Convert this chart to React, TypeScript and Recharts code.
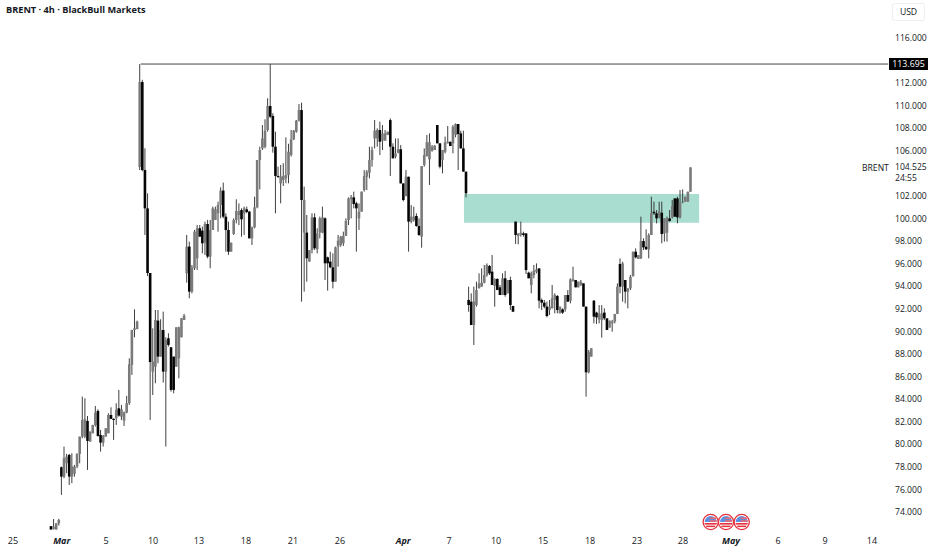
import React from "react";
import { ComposedChart, Bar, XAxis, YAxis, ReferenceLine, ReferenceArea } from "recharts";

// candle rows: open, high, low, close
const preMarket = [[72.75,72.75,72.45,72.45],[72.5,73.38,72.45,72.7],[72.45,73.0,72.45,73.0],[73.0,73.4,72.8,73.3]];
const weekA = [[77.97,78.03,75.52,77.14],[77.14,79.8,77.0,78.76],[78.32,79.15,77.44,78.91],[79.06,79.15,76.4,77.14],[77.14,79.21,76.55,78.03],[77.38,78.17,77.14,78.03],[78.03,79.21,77.88,79.15],[79.15,80.68,78.32,80.68],[80.68,84.23,80.54,82.16],[80.68,84.08,80.54,82.22],[82.07,82.51,77.73,80.3],[80.24,81.13,80.24,81.13],[80.98,81.72,80.98,81.72],[81.72,83.4,81.57,82.81],[82.96,83.1,80.68,80.74],[80.83,81.27,79.35,80.15],[80.15,80.83,79.8,80.74],[80.68,81.42,80.68,81.42],[80.98,82.75,80.98,82.6],[82.6,83.28,82.31,82.25],[82.25,82.31,80.39,82.2],[82.31,83.64,81.72,83.05],[83.19,84.82,82.45,82.54],[82.45,83.49,82.16,83.1],[82.1,82.9,81.63,82.84],[82.81,84.29,82.75,83.64],[83.64,87.62,83.49,87.09],[87.03,90.13,86.15,90.13],[90.13,91.96,89.48,90.28],[90.22,90.96,90.19,90.87]];
const weekB = [[104.57,113.695,104.3,112.1],[112.1,112.3,104.2,104.3],[104.31,106.23,98.55,100.91],[100.91,102.24,94.9,95.18],[95.18,95.18,82.16,87.29],[86.44,90.28,84.37,87.33],[86.88,91.9,85.41,91.02],[90.96,91.9,87.18,87.77],[87.77,91.08,87.77,90.13],[90.13,91.76,85.47,86.44],[86.44,89.48,79.8,89.25],[89.4,89.84,88.66,88.81],[88.6,88.6,84.67,84.82],[87.77,87.77,84.52,84.82],[86.88,90.37,86.88,90.37],[87.62,90.43,85.85,90.37],[89.48,91.17,89.48,91.17],[91.02,91.55,91.02,91.4]];
const weekC = [[95.15,98.55,94.33,97.52],[97.52,97.96,92.94,93.53],[93.53,95.89,93.38,95.68],[95.6,98.99,95.45,98.84],[96.48,99.43,95.45,99.14],[99.14,99.43,98.4,98.4],[98.93,99.29,96.92,97.81],[97.87,99.73,96.78,99.52],[99.52,99.88,96.48,96.63],[96.63,99.88,95.6,98.99],[98.99,101.06,98.99,100.91],[99.88,101.06,99.88,100.82],[100.47,101.5,98.84,101.21],[101.21,102.77,100.03,102.48],[102.48,103.19,100.03,100.17],[100.17,100.47,97.07,98.99],[98.99,99.73,96.78,97.07],[97.07,97.87,97.07,97.87],[98.64,100.03,98.55,99.88],[99.88,101.71,99.58,100.67],[100.32,101.35,99.43,100.67],[100.76,100.91,98.4,99.94],[100.47,101.06,98.55,100.91],[100.82,101.06,100.47,100.59],[100.62,100.68,98.25,98.25],[98.25,99.29,97.66,99.23],[99.23,101.94,99.14,101.0],[101.0,105.19,100.91,105.19],[105.19,106.37,102.59,106.08],[106.23,108.29,106.08,107.11],[106.37,108.8,106.23,107.79],[107.85,110.66,107.7,109.98]];
const weekD = [[109.98,113.695,108.9,109.03],[109.09,109.33,105.84,106.37],[106.37,107.7,100.47,103.78],[103.78,104.6,103.6,103.7],[103.13,104.75,101.35,103.72],[103.42,104.9,102.89,103.78],[103.57,107.2,103.13,103.86],[103.86,106.63,103.13,105.93],[105.64,107.85,105.5,107.02],[107.02,107.85,106.96,107.79],[107.7,108.74,107.61,108.68],[108.68,110.15,108.6,109.62],[109.62,110.27,92.64,101.65],[98.76,102.83,93.53,101.65],[98.76,100.32,94.41,96.48],[96.19,97.21,96.19,97.21],[97.22,100.47,96.92,100.11],[100.11,100.47,97.22,97.37],[97.28,99.14,96.92,98.7],[98.76,100.17,98.25,100.03],[98.76,101.06,98.7,100.11],[100.03,100.11,94.56,96.04],[96.57,96.63,93.62,96.04],[96.19,97.07,95.6,95.68],[95.68,96.92,93.82,94.41],[94.41,97.52,94.41,97.46],[97.52,98.55,95.74,98.05]];
const weekE = [[97.66,98.46,97.51,98.4],[97.81,98.84,97.57,98.46],[98.46,100.02,98.46,99.8],[99.87,101.88,99.43,101.79],[101.71,102.09,100.02,101.88],[101.88,102.39,100.91,101.29],[101.35,101.5,97.07,100.91],[100.02,101.35,98.99,100.61],[100.61,102.39,100.61,102.39],[102.53,104.3,102.39,103.77],[103.71,104.3,102.53,104.16],[104.07,106.37,103.57,105.19],[105.19,106.37,104.6,106.08],[107.11,108.73,106.22,107.79],[107.11,108.0,106.37,107.85],[107.85,108.59,105.63,106.81],[106.9,108.29,106.08,107.55],[106.9,107.85,106.9,107.55],[107.41,107.7,107.4,107.7],[108.73,108.88,103.77,106.37],[106.37,106.67,105.34,105.34],[105.49,107.11,105.34,105.78],[105.84,107.11,105.78,106.14],[106.14,106.52,103.12,103.12],[103.12,103.12,101.53,101.65],[101.99,104.3,101.99,103.71],[103.71,103.71,97.07,99.73],[99.73,101.2,99.58,100.17],[99.87,101.06,99.73,100.17],[100.23,100.47,99.28,99.34],[99.34,100.02,98.46,98.55],[98.4,104.66,97.42,104.66],[104.75,106.22,104.6,105.63],[105.55,107.41,105.49,106.76],[105.25,107.55,102.98,106.76],[106.02,106.52,105.93,106.37],[106.08,106.52,106.08,106.46],[108.29,108.29,106.67,106.67],[106.67,106.67,104.45,104.6],[105.19,106.08,104.01,106.08],[105.93,107.26,105.78,106.76],[106.67,108.2,106.67,106.81],[106.81,106.81,106.43,106.43],[106.67,108.29,105.78,108.14],[107.41,108.44,107.2,108.38],[108.38,108.38,104.3,107.49],[107.55,107.79,106.22,106.22],[106.22,107.79,104.16,104.16],[104.16,104.16,101.88,102.24]];
const weekF = [[92.79,93.97,91.75,92.34],[92.64,93.38,90.57,90.57],[90.57,93.97,88.8,92.64],[92.34,94.41,92.2,93.67],[93.82,95.15,93.82,94.26],[93.97,95.59,93.97,94.32],[94.32,95.89,94.26,95.0],[95.0,96.03,94.85,95.89],[95.8,95.89,95.0,95.15],[95.3,96.77,94.12,94.12],[94.03,94.71,92.2,94.65],[94.65,94.71,93.67,93.67],[93.91,94.12,93.23,93.23],[93.23,95.15,93.23,94.71],[94.71,95.36,93.08,93.23],[93.38,94.56,93.38,94.56],[94.56,94.85,91.9,92.34],[92.26,92.26,91.75,91.75]];
const weekG = [[99.73,99.73,97.75,98.55],[98.46,98.69,97.72,98.69],[98.55,99.73,98.4,98.75],[98.69,98.84,98.4,98.55],[98.69,98.69,95.09,95.44],[95.21,95.3,94.71,94.71],[94.12,95.3,93.38,95.15],[95.0,95.89,94.71,95.39],[95.3,96.03,95.15,95.5],[95.59,95.59,92.05,92.73],[92.79,92.93,91.9,92.55],[92.55,92.79,92.05,92.2],[92.2,92.64,91.25,91.37],[91.9,92.79,91.46,92.2],[92.05,94.12,92.05,92.93],[92.79,93.38,91.61,93.23],[93.14,93.23,91.61,91.9],[91.61,92.2,91.61,92.2],[91.96,92.05,91.55,91.67],[91.96,93.23,91.75,93.23],[93.23,93.67,92.64,92.64],[92.73,94.71,92.49,94.62],[94.5,95.74,94.41,94.62],[94.56,94.56,93.91,93.91],[93.91,94.41,93.91,94.41],[94.12,94.56,94.03,94.41],[94.26,94.26,92.2,92.2],[92.2,92.2,84.22,86.38],[86.38,88.36,86.29,88.21],[87.77,88.51,87.77,88.51]];
const weekH = [[92.73,92.79,90.72,91.31],[91.67,91.75,90.66,91.25],[91.07,92.34,90.72,91.6],[91.01,92.34,89.45,91.6],[91.67,92.05,91.0,91.16],[91.16,91.16,90.13,90.13],[90.34,90.96,90.34,90.96],[90.72,91.02,89.98,90.87],[90.87,91.55,90.72,91.55],[91.55,94.26,91.55,93.97],[95.98,96.48,93.38,93.97],[93.97,96.18,92.64,96.03],[94.56,94.56,92.49,93.53],[93.53,93.82,92.05,93.82],[93.82,95.0,93.67,94.85],[94.91,97.07,94.85,97.07],[97.07,97.36,96.47,96.57],[96.42,96.77,96.42,96.77],[96.48,100.17,96.42,98.01],[98.01,98.25,97.22,97.45],[97.51,99.05,97.22,97.28],[97.28,98.69,96.48,98.55],[98.55,101.94,98.55,100.47],[100.61,101.5,100.32,100.47],[100.47,100.76,99.58,100.02],[100.17,101.5,100.02,100.61],[100.52,101.5,97.81,98.63],[98.69,100.02,97.96,100.02],[98.75,100.17,97.96,100.02],[100.02,100.76,99.73,99.79],[100.11,101.65,100.02,101.11],[101.79,101.79,100.17,100.17],[101.79,101.94,99.58,100.11],[100.11,102.53,100.02,101.35],[101.41,102.59,101.35,101.5],[101.5,101.94,101.5,101.94],[101.5,102.38,101.5,102.38],[102.38,104.54,102.38,104.54]];

const priceTicks = [74,76,78,80,82,84,86,88,90,92,94,96,98,100,102,106,108,110,112,116];
const timeTicks = [-18.7,0,17,35,52.6,70.6,88.6,106.6,130.8,148.4,166.4,184.4,202.4,220.4,238,256.4,274.4,292.4,310.4];
const timeLabels = ["25","Mar","5","10","13","18","21","26","Apr","7","10","15","18","23","28","May","6","9","14"];
const monthLabels = ["Mar","Apr","May"];

const highLevel = 113.695;
const zoneTop = 102.18;
const zoneBottom = 99.63;
const zoneStart = 154.1;
const zoneEnd = 244.2;
const levelStart = 30.3;
const xMin = -23.64;
const xMax = 315.4;

const font = "'Open Sans', sans-serif";

const rows = [...preMarket, ...weekA, ...weekB, ...weekC, ...weekD, ...weekE, ...weekF, ...weekG, ...weekH];
const chartData = rows.map(([o, h, l, c], i) => {
  const hi = Math.max(o, h, l, c);
  const lo = Math.min(o, h, l, c);
  return { idx: i - preMarket.length, o, c, hi, lo, range: [lo, hi] };
});

function Candle(props: any) {
  const { x, y, width, height, payload } = props;
  if (!payload) return null;
  const { o, c, hi, lo } = payload;
  const unit = height / Math.max(hi - lo, 0.0001);
  const cx = x + width / 2;
  const top = y + (hi - Math.max(o, c)) * unit;
  const bot = y + (hi - Math.min(o, c)) * unit;
  const up = c >= o;
  return (
    <g>
      <line x1={cx} x2={cx} y1={y} y2={y + height} stroke="#2a2a2a" strokeWidth={0.9} />
      <rect x={cx - 1.3} y={top} width={2.6} height={Math.max(bot - top, 1)} fill={up ? "#7a7a7a" : "#050505"} />
    </g>
  );
}

function TimeTick(props: any) {
  const { x, y, payload } = props;
  const label = timeLabels[timeTicks.indexOf(payload.value)];
  const month = monthLabels.includes(label);
  return (
    <text x={x} y={y} textAnchor="middle" dominantBaseline="central" fontFamily={font} fontSize={9}
      fontWeight={month ? 700 : 400} fontStyle={month ? "italic" : "normal"} fill="#131722">
      {label}
    </text>
  );
}

function Flag({ cx }: { cx: number }) {
  return (
    <g>
      <circle cx={cx} cy={522} r={7.6} fill="#fff" stroke="#e5303c" strokeWidth={1.3} />
      <path d={`M ${cx - 6} 522 A 6 6 0 0 1 ${cx + 6} 522 Z`} fill="#5b8fe0" />
      <rect x={cx - 1} y={517.5} width={6.5} height={1.6} fill="#e86a72" />
      <rect x={cx - 1} y={520.2} width={7} height={1.6} fill="#e86a72" />
      <rect x={cx - 6} y={523} width={12} height={1.6} fill="#e5303c" />
      <rect x={cx - 4.5} y={525.6} width={9} height={1.5} fill="#e5303c" />
    </g>
  );
}

const flagCenters = [710.7, 726, 741.7];

export default function App() {
  return (
    <div style={{ position: "absolute", left: 0, top: 0, width: 932, height: 550, background: "#fff", overflow: "hidden" }}>
      <ComposedChart width={932} height={550} data={chartData} margin={{ top: 0, right: 0, bottom: 0, left: 0 }}>
        <XAxis dataKey="idx" type="number" domain={[xMin, xMax]} ticks={timeTicks} interval={0} height={18}
          axisLine={false} tickLine={false} tick={<TimeTick />} />
        <YAxis orientation="right" width={47} domain={[72.23, 119.37]} ticks={priceTicks} interval={0}
          axisLine={false} tickLine={false} tickMargin={4}
          tickFormatter={(v: number) => v.toFixed(3)}
          tick={{ fontFamily: font, fontSize: 8.6, fill: "#131722" }} />
        <ReferenceArea x1={zoneStart} x2={zoneEnd} y1={zoneBottom} y2={zoneTop} fill="#a9ddd0" fillOpacity={1} stroke="none" ifOverflow="visible" />
        <ReferenceLine segment={[{ x: levelStart, y: highLevel }, { x: xMax + 1.2, y: highLevel }]} stroke="#444" strokeWidth={1} ifOverflow="visible" />
        <Bar dataKey="range" barSize={2} shape={<Candle />} isAnimationActive={false} />
      </ComposedChart>

      <svg width={932} height={550} style={{ position: "absolute", left: 0, top: 0, pointerEvents: "none" }}>
        {flagCenters.map((cx) => <Flag key={cx} cx={cx} />)}
      </svg>

      <div style={{ position: "absolute", left: 6, top: 4, fontFamily: font, fontWeight: 700, fontSize: 9.2, lineHeight: "12px", color: "#131722", whiteSpace: "nowrap" }}>
        BRENT · 4h · BlackBull Markets
      </div>
      <div style={{ position: "absolute", left: 892, top: 3, width: 33, height: 18, boxSizing: "border-box", border: "1px solid #eef0f3", borderRadius: 2, fontFamily: font, fontSize: 8.6, lineHeight: "16px", textAlign: "center", color: "#131722" }}>
        USD
      </div>
      <div style={{ position: "absolute", left: 889, top: 58, width: 39, height: 12, background: "#000", color: "#fff", fontFamily: font, fontSize: 8.8, lineHeight: "12px", textAlign: "center" }}>
        113.695
      </div>
      <div style={{ position: "absolute", left: 862, top: 162, fontFamily: font, fontSize: 8.6, lineHeight: "12px", color: "#131722" }}>BRENT</div>
      <div style={{ position: "absolute", left: 895, top: 162, fontFamily: font, fontSize: 8.6, lineHeight: "10px", color: "#131722" }}>104.525</div>
      <div style={{ position: "absolute", left: 895, top: 173, fontFamily: font, fontSize: 8.6, lineHeight: "10px", color: "#131722" }}>24:55</div>
    </div>
  );
}
